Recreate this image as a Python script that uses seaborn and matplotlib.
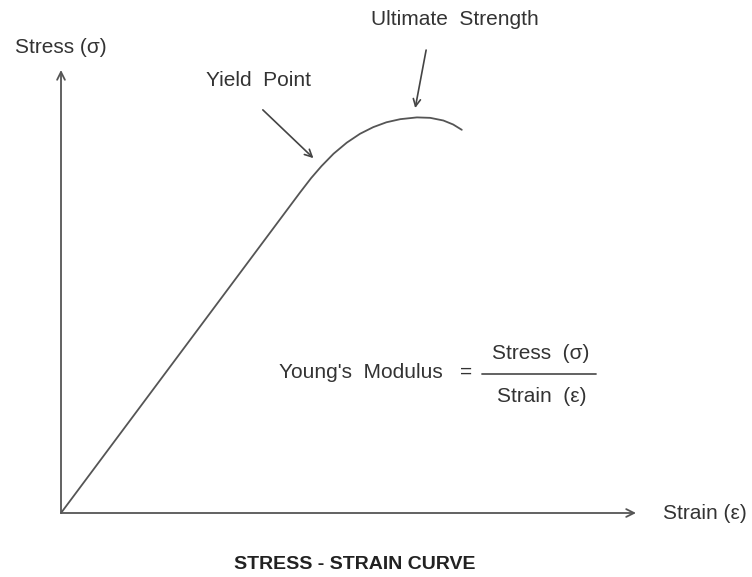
import matplotlib
matplotlib.use('Agg')
import matplotlib.pyplot as plt
import seaborn as sns

# stress-strain curve (axis lengths = 100 units)
strain = [0, 39.3, 41.6, 43.5, 45.3, 47.4, 49.7, 52.0, 54.3, 56.6, 59.0, 61.9, 64.2, 66.5, 68.2, 69.7]
stress = [0, 68.4, 72.4, 75.6, 78.3, 81.1, 83.6, 85.6, 87.1, 88.2, 88.9, 89.3, 89.2, 88.6, 87.7, 86.5]

axis_len = 100
yield_pt = (43.9, 80.1)
ultimate_pt = (61.6, 91.4)

line_col = '#555555'
text_col = '#333333'

sns.set_style('white')
plt.rcParams['font.family'] = ['Liberation Sans', 'DejaVu Sans']

fig = plt.figure(figsize=(7.52, 5.77), dpi=100)
ax = fig.add_axes([0, 0, 1, 1])

sns.lineplot(x=strain, y=stress, ax=ax, color=line_col, lw=1.3, sort=False, estimator=None)

# axes with open arrow heads
arrow = dict(arrowstyle='->', color=line_col, lw=1.3, mutation_scale=14, shrinkA=0, shrinkB=0)
ax.annotate('', xy=(0, axis_len), xytext=(0, 0), arrowprops=arrow)
ax.annotate('', xy=(axis_len, 0), xytext=(0, 0), arrowprops=arrow)

# pointer arrows
ptr = dict(arrowstyle='->', color='#444444', lw=1.2, mutation_scale=13, shrinkA=0, shrinkB=0)
ax.annotate('', xy=yield_pt, xytext=(35.1, 91.0), arrowprops=ptr)
ax.annotate('', xy=ultimate_pt, xytext=(63.5, 104.5), arrowprops=ptr)

fs = 15
ax.text(0, 105, 'Stress (σ)', ha='center', va='center', fontsize=fs, color=text_col)
ax.text(112.0, -0.2, 'Strain (ε)', ha='center', va='center', fontsize=fs, color=text_col)
ax.text(34.4, 97.7, 'Yield  Point', ha='center', va='center', fontsize=fs, color=text_col)
ax.text(68.5, 111.5, 'Ultimate  Strength', ha='center', va='center', fontsize=fs, color=text_col)

# Young's modulus formula
ax.text(52.2, 31.8, "Young's  Modulus", ha='center', va='center', fontsize=fs, color=text_col)
ax.text(70.4, 31.8, '=', ha='center', va='center', fontsize=fs, color=text_col)
ax.plot([73.2, 93.0], [31.4, 31.4], color=line_col, lw=1.3)
ax.text(83.5, 36.1, 'Stress  (σ)', ha='center', va='center', fontsize=fs, color=text_col)
ax.text(83.6, 26.2, 'Strain  (ε)', ha='center', va='center', fontsize=fs, color=text_col)

ax.text(51.1, -11.7, 'STRESS - STRAIN CURVE', ha='center', va='center',
        fontsize=14, fontweight='bold', color='#222222')

ax.set_xlim(-61 / 5.75, (752 - 61) / 5.75)
ax.set_ylim((513 - 577) / 4.43, 513 / 4.43)
ax.axis('off')

fig.savefig('out.png', dpi=100)
